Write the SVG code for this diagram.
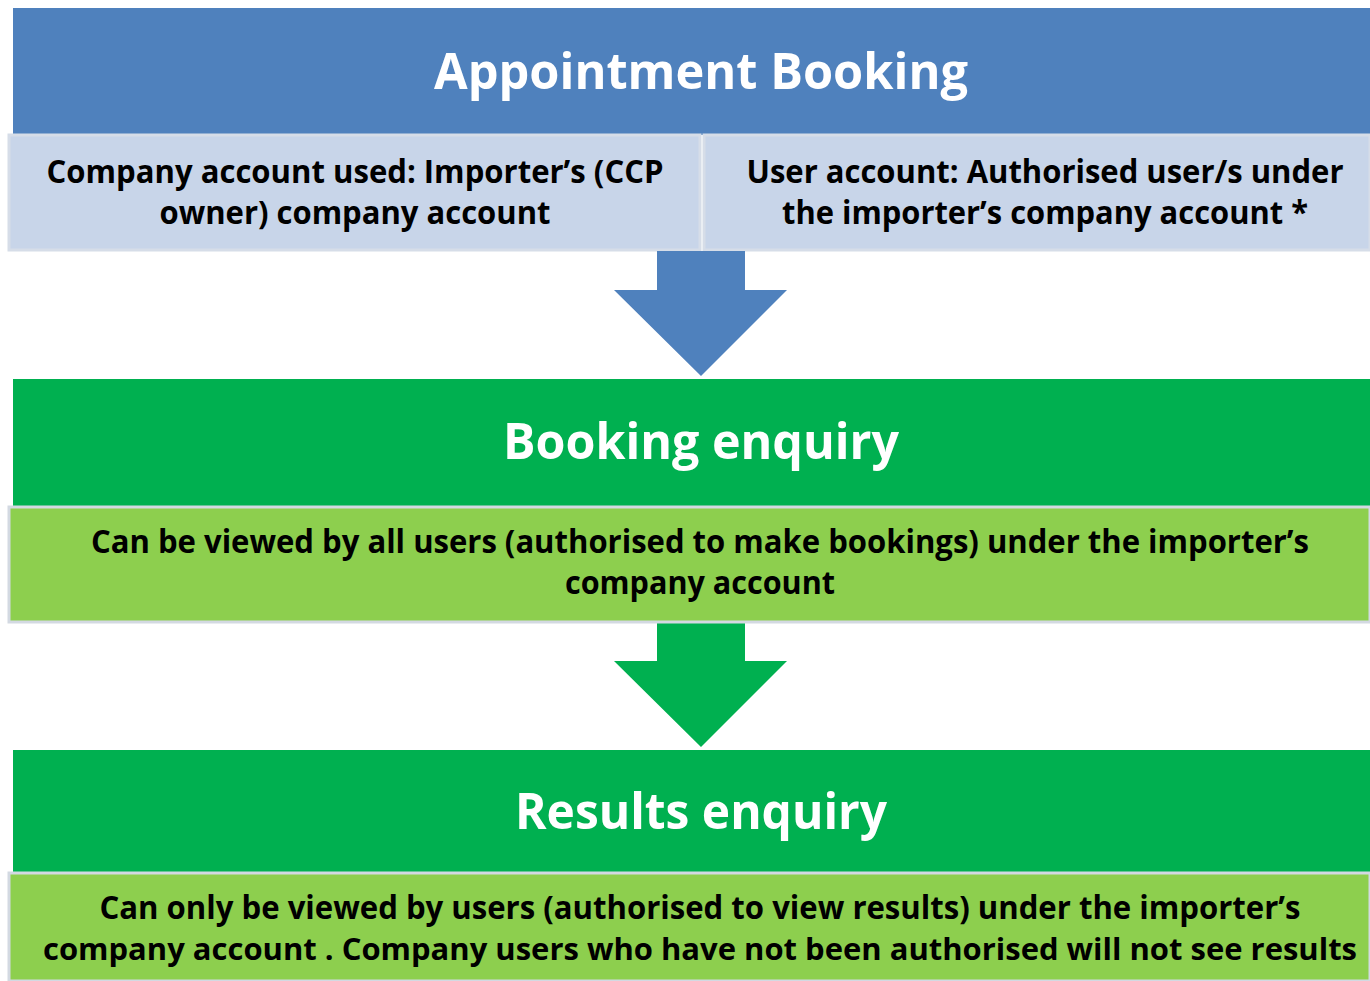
<svg xmlns="http://www.w3.org/2000/svg" width="1370" height="981" viewBox="0 0 1370 981">
<defs>
<style>
.hdrB{fill:#4F81BD}
.hdrG{fill:#00B050}
.subB{fill:#C8D5E9;stroke:#D6DDE8;stroke-width:3}
.subG{fill:#8DCF4E;stroke:#D3D9E2;stroke-width:3}
.t{font-family:"Open Sans","Noto Sans","Liberation Sans",sans-serif;font-weight:700;text-anchor:middle}
.title{fill:#FFFFFF;font-size:51px}
.body{fill:#000000;font-size:32.5px}
</style>
</defs>
<rect x="0" y="0" width="1370" height="981" fill="#FFFFFF"/>
<g id="appointment-booking">
<rect class="hdrB" x="13" y="8" width="1357" height="127"/>
<text class="t title" x="701" y="89" textLength="534" lengthAdjust="spacingAndGlyphs">Appointment Booking</text>
</g>
<g id="company-account">
<rect class="subB" x="9" y="135" width="691" height="115"/>
<text class="t body" x="355" y="183" textLength="617" lengthAdjust="spacingAndGlyphs">Company account used: Importer’s (CCP</text>
<text class="t body" x="355" y="224" textLength="391" lengthAdjust="spacingAndGlyphs">owner) company account</text>
</g>
<g id="user-account">
<rect class="subB" x="704" y="135" width="666" height="115"/>
<text class="t body" x="1045" y="183" textLength="597" lengthAdjust="spacingAndGlyphs">User account: Authorised user/s under</text>
<text class="t body" x="1045" y="224" textLength="526" lengthAdjust="spacingAndGlyphs">the importer’s company account *</text>
</g>
<g id="connectors">
<polygon fill="#4F81BD" points="657,251 745,251 745,290 787,290 701,376 614,290 657,290"/>
<polygon fill="#00B050" points="657,623 745,623 745,661 787,661 701,747 614,661 657,661"/>
</g>
<g id="booking-enquiry">
<rect class="hdrG" x="13" y="379" width="1357" height="127"/>
<text class="t title" x="701" y="459" textLength="396" lengthAdjust="spacingAndGlyphs">Booking enquiry</text>
</g>
<g id="booking-visibility">
<rect class="subG" x="9" y="507" width="1361" height="115"/>
<text class="t body" x="700" y="553" textLength="1218" lengthAdjust="spacingAndGlyphs">Can be viewed by all users (authorised to make bookings) under the importer’s</text>
<text class="t body" x="700" y="594" textLength="270" lengthAdjust="spacingAndGlyphs">company account</text>
</g>
<g id="results-enquiry">
<rect class="hdrG" x="13" y="750" width="1357" height="122"/>
<text class="t title" x="701" y="829" textLength="372" lengthAdjust="spacingAndGlyphs">Results enquiry</text>
</g>
<g id="results-visibility">
<rect class="subG" x="9" y="873" width="1361" height="108"/>
<text class="t body" x="700" y="919" textLength="1201" lengthAdjust="spacingAndGlyphs">Can only be viewed by users (authorised to view results) under the importer’s</text>
<text class="t body" x="700" y="960" style="font-size:31px" textLength="1314" lengthAdjust="spacingAndGlyphs">company account . Company users who have not been authorised will not see results</text>
</g>
</svg>
